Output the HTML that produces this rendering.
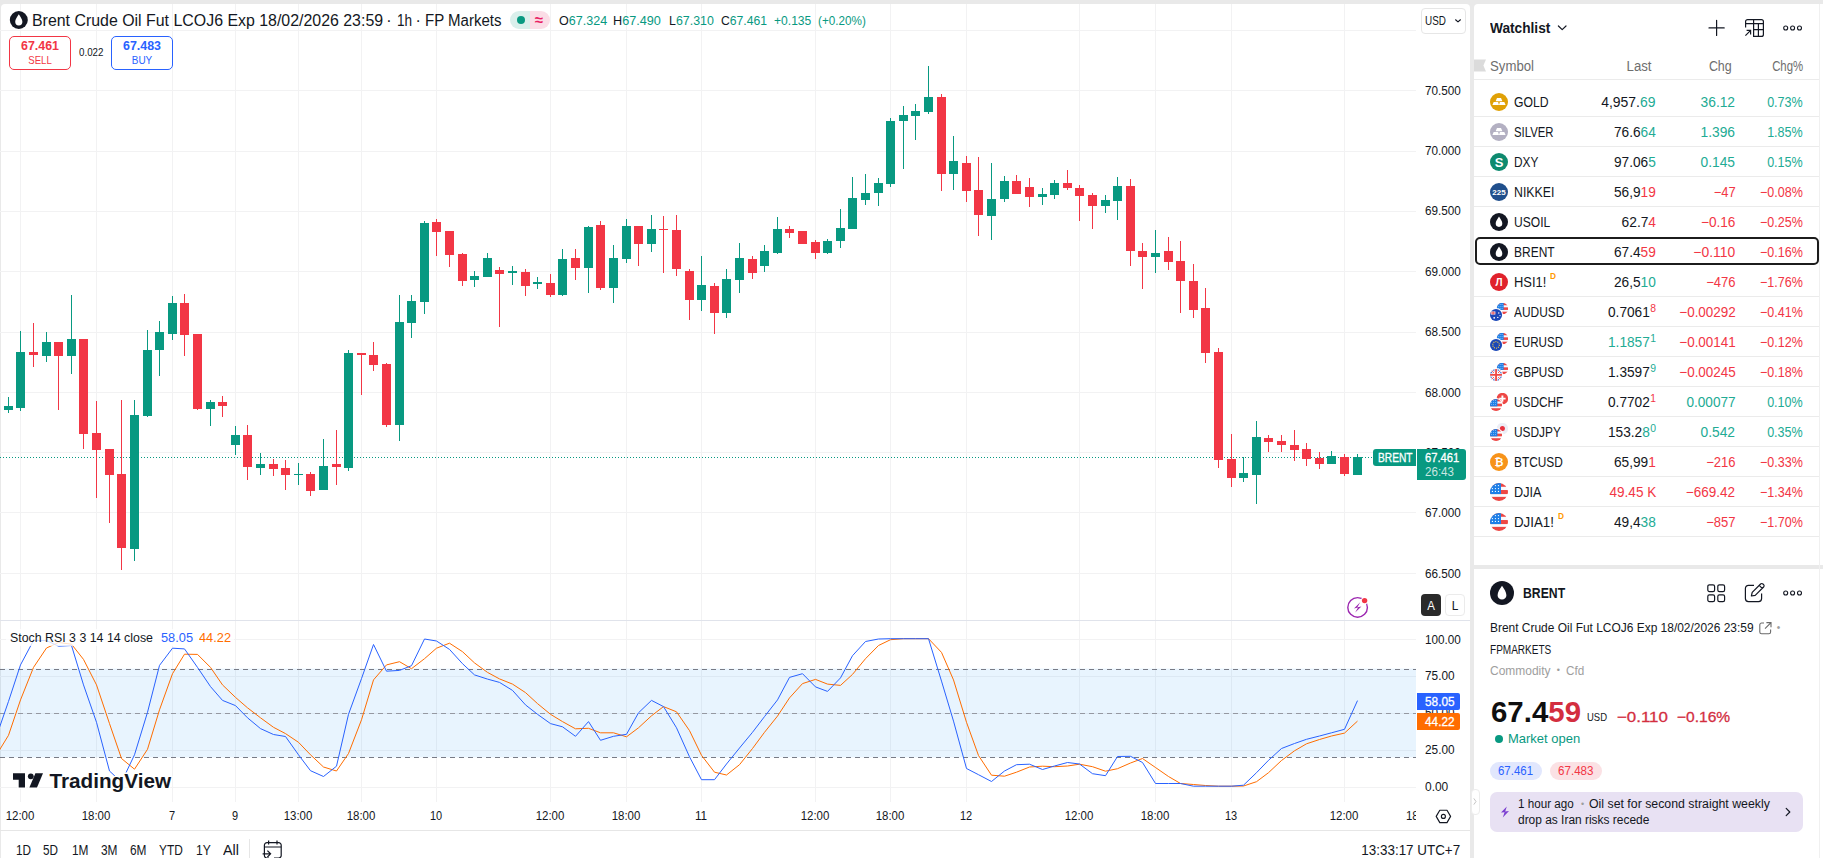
<!DOCTYPE html>
<html><head><meta charset="utf-8"><title>Brent chart</title>
<style>
*{box-sizing:border-box;margin:0;padding:0}
html,body{width:1823px;height:858px;overflow:hidden;background:#e9e9e9;font-family:"Liberation Sans",sans-serif;color:#131722}
.abs{position:absolute}
.t{position:absolute;white-space:nowrap;line-height:1}
#chart{position:absolute;left:1px;top:4px;width:1469px;height:854px;background:#fff;border-radius:4px 4px 0 0}
#wl{position:absolute;left:1474px;top:4px;width:349px;height:561px;background:#fff;border-radius:4px 0 0 0}
#det{position:absolute;left:1474px;top:569px;width:349px;height:289px;background:#fff}
.g{color:#089981}.r{color:#f23645}
.ax{position:absolute;left:1425px;font-size:12px;line-height:12px;color:#131722;white-space:nowrap}
.tm{position:absolute;top:810px;font-size:12px;line-height:12px;color:#131722;white-space:nowrap;transform:translateX(-50%)}
</style></head><body>
<div id="chart"></div>
<div id="wl"></div>
<div id="det"></div>
<svg class="abs" style="left:0;top:0" width="1470" height="858" viewBox="0 0 1470 858" shape-rendering="auto"><line x1="20.5" y1="4" x2="20.5" y2="802" stroke="#f2f2f3" stroke-width="1"/><line x1="96.5" y1="4" x2="96.5" y2="802" stroke="#f2f2f3" stroke-width="1"/><line x1="172.5" y1="4" x2="172.5" y2="802" stroke="#f2f2f3" stroke-width="1"/><line x1="235.5" y1="4" x2="235.5" y2="802" stroke="#f2f2f3" stroke-width="1"/><line x1="298.5" y1="4" x2="298.5" y2="802" stroke="#f2f2f3" stroke-width="1"/><line x1="361.5" y1="4" x2="361.5" y2="802" stroke="#f2f2f3" stroke-width="1"/><line x1="436.5" y1="4" x2="436.5" y2="802" stroke="#f2f2f3" stroke-width="1"/><line x1="550.5" y1="4" x2="550.5" y2="802" stroke="#f2f2f3" stroke-width="1"/><line x1="626.5" y1="4" x2="626.5" y2="802" stroke="#f2f2f3" stroke-width="1"/><line x1="701.5" y1="4" x2="701.5" y2="802" stroke="#f2f2f3" stroke-width="1"/><line x1="815.5" y1="4" x2="815.5" y2="802" stroke="#f2f2f3" stroke-width="1"/><line x1="890.5" y1="4" x2="890.5" y2="802" stroke="#f2f2f3" stroke-width="1"/><line x1="966.5" y1="4" x2="966.5" y2="802" stroke="#f2f2f3" stroke-width="1"/><line x1="1079.5" y1="4" x2="1079.5" y2="802" stroke="#f2f2f3" stroke-width="1"/><line x1="1155.5" y1="4" x2="1155.5" y2="802" stroke="#f2f2f3" stroke-width="1"/><line x1="1231.5" y1="4" x2="1231.5" y2="802" stroke="#f2f2f3" stroke-width="1"/><line x1="1344.5" y1="4" x2="1344.5" y2="802" stroke="#f2f2f3" stroke-width="1"/><line x1="0" y1="573.5" x2="1416" y2="573.5" stroke="#f2f2f3" stroke-width="1"/><line x1="0" y1="512.5" x2="1416" y2="512.5" stroke="#f2f2f3" stroke-width="1"/><line x1="0" y1="452.5" x2="1416" y2="452.5" stroke="#f2f2f3" stroke-width="1"/><line x1="0" y1="392.5" x2="1416" y2="392.5" stroke="#f2f2f3" stroke-width="1"/><line x1="0" y1="332.5" x2="1416" y2="332.5" stroke="#f2f2f3" stroke-width="1"/><line x1="0" y1="271.5" x2="1416" y2="271.5" stroke="#f2f2f3" stroke-width="1"/><line x1="0" y1="211.5" x2="1416" y2="211.5" stroke="#f2f2f3" stroke-width="1"/><line x1="0" y1="151.5" x2="1416" y2="151.5" stroke="#f2f2f3" stroke-width="1"/><line x1="0" y1="90.5" x2="1416" y2="90.5" stroke="#f2f2f3" stroke-width="1"/><line x1="0" y1="30.5" x2="1416" y2="30.5" stroke="#f2f2f3" stroke-width="1"/><line x1="0" y1="787.5" x2="1416" y2="787.5" stroke="#f2f2f3" stroke-width="1"/><line x1="0" y1="750.5" x2="1416" y2="750.5" stroke="#f2f2f3" stroke-width="1"/><line x1="0" y1="713.5" x2="1416" y2="713.5" stroke="#f2f2f3" stroke-width="1"/><line x1="0" y1="676.5" x2="1416" y2="676.5" stroke="#f2f2f3" stroke-width="1"/><line x1="0" y1="639.5" x2="1416" y2="639.5" stroke="#f2f2f3" stroke-width="1"/><rect x="0" y="668.6" width="1416" height="88.8" fill="#2196f3" fill-opacity="0.1"/><line x1="0" y1="669.5" x2="1416" y2="669.5" stroke="#787b86" stroke-width="1" stroke-dasharray="5 4"/><line x1="0" y1="713.5" x2="1416" y2="713.5" stroke="#9598a1" stroke-width="1" stroke-dasharray="5 4"/><line x1="0" y1="757.5" x2="1416" y2="757.5" stroke="#787b86" stroke-width="1" stroke-dasharray="5 4"/><line x1="0" y1="620.5" x2="1470" y2="620.5" stroke="#e0e3eb" stroke-width="1"/><line x1="0" y1="457.5" x2="1416" y2="457.5" stroke="#089981" stroke-width="1" stroke-dasharray="1 2"/><rect x="8" y="397" width="1" height="16" fill="#089981"/><rect x="4" y="406" width="9" height="4" fill="#089981"/><rect x="20" y="331" width="1" height="80" fill="#089981"/><rect x="16" y="352" width="9" height="56" fill="#089981"/><rect x="33" y="323" width="1" height="44" fill="#f23645"/><rect x="29" y="352" width="9" height="3" fill="#f23645"/><rect x="46" y="332" width="1" height="30" fill="#089981"/><rect x="42" y="342" width="9" height="14" fill="#089981"/><rect x="58" y="342" width="1" height="68" fill="#f23645"/><rect x="54" y="342" width="9" height="14" fill="#f23645"/><rect x="71" y="295" width="1" height="79" fill="#089981"/><rect x="67" y="339" width="9" height="17" fill="#089981"/><rect x="83" y="339" width="1" height="110" fill="#f23645"/><rect x="79" y="339" width="9" height="95" fill="#f23645"/><rect x="96" y="401" width="1" height="97" fill="#f23645"/><rect x="92" y="433" width="9" height="17" fill="#f23645"/><rect x="109" y="449" width="1" height="74" fill="#f23645"/><rect x="105" y="449" width="9" height="26" fill="#f23645"/><rect x="121" y="400" width="1" height="170" fill="#f23645"/><rect x="117" y="474" width="9" height="74" fill="#f23645"/><rect x="134" y="400" width="1" height="161" fill="#089981"/><rect x="130" y="415" width="9" height="134" fill="#089981"/><rect x="147" y="330" width="1" height="87" fill="#089981"/><rect x="143" y="350" width="9" height="66" fill="#089981"/><rect x="159" y="321" width="1" height="55" fill="#089981"/><rect x="155" y="332" width="9" height="18" fill="#089981"/><rect x="172" y="296" width="1" height="44" fill="#089981"/><rect x="168" y="303" width="9" height="31" fill="#089981"/><rect x="184" y="294" width="1" height="62" fill="#f23645"/><rect x="180" y="303" width="9" height="32" fill="#f23645"/><rect x="197" y="334" width="1" height="76" fill="#f23645"/><rect x="193" y="334" width="9" height="75" fill="#f23645"/><rect x="210" y="400" width="1" height="26" fill="#089981"/><rect x="206" y="402" width="9" height="7" fill="#089981"/><rect x="222" y="396" width="1" height="21" fill="#f23645"/><rect x="218" y="402" width="9" height="4" fill="#f23645"/><rect x="235" y="426" width="1" height="29" fill="#089981"/><rect x="231" y="435" width="9" height="10" fill="#089981"/><rect x="247" y="425" width="1" height="55" fill="#f23645"/><rect x="243" y="435" width="9" height="32" fill="#f23645"/><rect x="260" y="453" width="1" height="22" fill="#089981"/><rect x="256" y="464" width="9" height="4" fill="#089981"/><rect x="273" y="459" width="1" height="17" fill="#f23645"/><rect x="269" y="464" width="9" height="5" fill="#f23645"/><rect x="285" y="460" width="1" height="30" fill="#f23645"/><rect x="281" y="468" width="9" height="7" fill="#f23645"/><rect x="298" y="463" width="1" height="22" fill="#089981"/><rect x="294" y="474" width="9" height="1" fill="#089981"/><rect x="310" y="472" width="1" height="24" fill="#f23645"/><rect x="306" y="474" width="9" height="17" fill="#f23645"/><rect x="323" y="439" width="1" height="51" fill="#089981"/><rect x="319" y="466" width="9" height="24" fill="#089981"/><rect x="336" y="430" width="1" height="55" fill="#f23645"/><rect x="332" y="464" width="9" height="3" fill="#f23645"/><rect x="348" y="350" width="1" height="121" fill="#089981"/><rect x="344" y="353" width="9" height="115" fill="#089981"/><rect x="361" y="353" width="1" height="42" fill="#f23645"/><rect x="357" y="353" width="9" height="2" fill="#f23645"/><rect x="373" y="342" width="1" height="29" fill="#f23645"/><rect x="369" y="355" width="9" height="10" fill="#f23645"/><rect x="386" y="363" width="1" height="64" fill="#f23645"/><rect x="382" y="364" width="9" height="61" fill="#f23645"/><rect x="399" y="295" width="1" height="146" fill="#089981"/><rect x="395" y="322" width="9" height="103" fill="#089981"/><rect x="411" y="295" width="1" height="43" fill="#089981"/><rect x="407" y="301" width="9" height="22" fill="#089981"/><rect x="424" y="221" width="1" height="93" fill="#089981"/><rect x="420" y="223" width="9" height="79" fill="#089981"/><rect x="436" y="219" width="1" height="37" fill="#f23645"/><rect x="432" y="222" width="9" height="10" fill="#f23645"/><rect x="449" y="231" width="1" height="36" fill="#f23645"/><rect x="445" y="231" width="9" height="24" fill="#f23645"/><rect x="462" y="253" width="1" height="33" fill="#f23645"/><rect x="458" y="254" width="9" height="27" fill="#f23645"/><rect x="474" y="271" width="1" height="16" fill="#089981"/><rect x="470" y="276" width="9" height="4" fill="#089981"/><rect x="487" y="253" width="1" height="24" fill="#089981"/><rect x="483" y="258" width="9" height="19" fill="#089981"/><rect x="499" y="267" width="1" height="60" fill="#f23645"/><rect x="495" y="270" width="9" height="4" fill="#f23645"/><rect x="512" y="266" width="1" height="19" fill="#089981"/><rect x="508" y="271" width="9" height="2" fill="#089981"/><rect x="525" y="269" width="1" height="27" fill="#f23645"/><rect x="521" y="272" width="9" height="14" fill="#f23645"/><rect x="537" y="277" width="1" height="12" fill="#089981"/><rect x="533" y="282" width="9" height="2" fill="#089981"/><rect x="550" y="274" width="1" height="23" fill="#f23645"/><rect x="546" y="283" width="9" height="12" fill="#f23645"/><rect x="562" y="249" width="1" height="47" fill="#089981"/><rect x="558" y="259" width="9" height="36" fill="#089981"/><rect x="575" y="249" width="1" height="31" fill="#f23645"/><rect x="571" y="258" width="9" height="10" fill="#f23645"/><rect x="588" y="226" width="1" height="67" fill="#089981"/><rect x="584" y="227" width="9" height="41" fill="#089981"/><rect x="600" y="221" width="1" height="69" fill="#f23645"/><rect x="596" y="225" width="9" height="63" fill="#f23645"/><rect x="613" y="245" width="1" height="58" fill="#089981"/><rect x="609" y="258" width="9" height="30" fill="#089981"/><rect x="626" y="219" width="1" height="44" fill="#089981"/><rect x="622" y="226" width="9" height="33" fill="#089981"/><rect x="638" y="226" width="1" height="40" fill="#f23645"/><rect x="634" y="226" width="9" height="18" fill="#f23645"/><rect x="651" y="215" width="1" height="37" fill="#089981"/><rect x="647" y="229" width="9" height="15" fill="#089981"/><rect x="663" y="216" width="1" height="57" fill="#f23645"/><rect x="659" y="229" width="9" height="1" fill="#f23645"/><rect x="676" y="215" width="1" height="61" fill="#f23645"/><rect x="672" y="230" width="9" height="39" fill="#f23645"/><rect x="689" y="269" width="1" height="51" fill="#f23645"/><rect x="685" y="271" width="9" height="29" fill="#f23645"/><rect x="701" y="256" width="1" height="55" fill="#089981"/><rect x="697" y="285" width="9" height="15" fill="#089981"/><rect x="714" y="283" width="1" height="51" fill="#f23645"/><rect x="710" y="286" width="9" height="27" fill="#f23645"/><rect x="726" y="269" width="1" height="49" fill="#089981"/><rect x="722" y="279" width="9" height="34" fill="#089981"/><rect x="739" y="243" width="1" height="50" fill="#089981"/><rect x="735" y="258" width="9" height="22" fill="#089981"/><rect x="752" y="256" width="1" height="23" fill="#f23645"/><rect x="748" y="259" width="9" height="14" fill="#f23645"/><rect x="764" y="245" width="1" height="27" fill="#089981"/><rect x="760" y="251" width="9" height="15" fill="#089981"/><rect x="777" y="217" width="1" height="37" fill="#089981"/><rect x="773" y="229" width="9" height="24" fill="#089981"/><rect x="789" y="226" width="1" height="12" fill="#f23645"/><rect x="785" y="229" width="9" height="4" fill="#f23645"/><rect x="802" y="231" width="1" height="13" fill="#f23645"/><rect x="798" y="231" width="9" height="13" fill="#f23645"/><rect x="815" y="240" width="1" height="19" fill="#f23645"/><rect x="811" y="242" width="9" height="11" fill="#f23645"/><rect x="827" y="239" width="1" height="15" fill="#089981"/><rect x="823" y="241" width="9" height="12" fill="#089981"/><rect x="840" y="209" width="1" height="39" fill="#089981"/><rect x="836" y="228" width="9" height="13" fill="#089981"/><rect x="852" y="177" width="1" height="52" fill="#089981"/><rect x="848" y="198" width="9" height="31" fill="#089981"/><rect x="865" y="174" width="1" height="31" fill="#089981"/><rect x="861" y="193" width="9" height="7" fill="#089981"/><rect x="878" y="178" width="1" height="28" fill="#089981"/><rect x="874" y="183" width="9" height="10" fill="#089981"/><rect x="890" y="118" width="1" height="69" fill="#089981"/><rect x="886" y="121" width="9" height="63" fill="#089981"/><rect x="903" y="106" width="1" height="63" fill="#089981"/><rect x="899" y="115" width="9" height="6" fill="#089981"/><rect x="915" y="104" width="1" height="36" fill="#089981"/><rect x="911" y="111" width="9" height="5" fill="#089981"/><rect x="928" y="66" width="1" height="48" fill="#089981"/><rect x="924" y="97" width="9" height="15" fill="#089981"/><rect x="941" y="94" width="1" height="97" fill="#f23645"/><rect x="937" y="97" width="9" height="77" fill="#f23645"/><rect x="953" y="136" width="1" height="54" fill="#089981"/><rect x="949" y="161" width="9" height="13" fill="#089981"/><rect x="966" y="156" width="1" height="46" fill="#f23645"/><rect x="962" y="163" width="9" height="28" fill="#f23645"/><rect x="978" y="157" width="1" height="79" fill="#f23645"/><rect x="974" y="190" width="9" height="25" fill="#f23645"/><rect x="991" y="163" width="1" height="77" fill="#089981"/><rect x="987" y="199" width="9" height="17" fill="#089981"/><rect x="1004" y="176" width="1" height="26" fill="#089981"/><rect x="1000" y="181" width="9" height="18" fill="#089981"/><rect x="1016" y="175" width="1" height="19" fill="#f23645"/><rect x="1012" y="181" width="9" height="13" fill="#f23645"/><rect x="1029" y="178" width="1" height="29" fill="#f23645"/><rect x="1025" y="187" width="9" height="10" fill="#f23645"/><rect x="1042" y="188" width="1" height="17" fill="#089981"/><rect x="1038" y="194" width="9" height="3" fill="#089981"/><rect x="1054" y="180" width="1" height="19" fill="#089981"/><rect x="1050" y="183" width="9" height="12" fill="#089981"/><rect x="1067" y="170" width="1" height="20" fill="#f23645"/><rect x="1063" y="183" width="9" height="5" fill="#f23645"/><rect x="1079" y="185" width="1" height="36" fill="#f23645"/><rect x="1075" y="188" width="9" height="8" fill="#f23645"/><rect x="1092" y="193" width="1" height="36" fill="#f23645"/><rect x="1088" y="195" width="9" height="11" fill="#f23645"/><rect x="1105" y="195" width="1" height="18" fill="#089981"/><rect x="1101" y="200" width="9" height="6" fill="#089981"/><rect x="1117" y="177" width="1" height="43" fill="#089981"/><rect x="1113" y="186" width="9" height="15" fill="#089981"/><rect x="1130" y="179" width="1" height="87" fill="#f23645"/><rect x="1126" y="186" width="9" height="65" fill="#f23645"/><rect x="1142" y="243" width="1" height="46" fill="#f23645"/><rect x="1138" y="251" width="9" height="6" fill="#f23645"/><rect x="1155" y="230" width="1" height="43" fill="#089981"/><rect x="1151" y="253" width="9" height="4" fill="#089981"/><rect x="1168" y="237" width="1" height="33" fill="#f23645"/><rect x="1164" y="251" width="9" height="11" fill="#f23645"/><rect x="1180" y="241" width="1" height="72" fill="#f23645"/><rect x="1176" y="261" width="9" height="20" fill="#f23645"/><rect x="1193" y="264" width="1" height="54" fill="#f23645"/><rect x="1189" y="281" width="9" height="29" fill="#f23645"/><rect x="1205" y="288" width="1" height="75" fill="#f23645"/><rect x="1201" y="308" width="9" height="45" fill="#f23645"/><rect x="1218" y="348" width="1" height="120" fill="#f23645"/><rect x="1214" y="352" width="9" height="108" fill="#f23645"/><rect x="1231" y="434" width="1" height="53" fill="#f23645"/><rect x="1227" y="459" width="9" height="19" fill="#f23645"/><rect x="1243" y="457" width="1" height="25" fill="#089981"/><rect x="1239" y="473" width="9" height="5" fill="#089981"/><rect x="1256" y="421" width="1" height="83" fill="#089981"/><rect x="1252" y="437" width="9" height="38" fill="#089981"/><rect x="1268" y="435" width="1" height="17" fill="#f23645"/><rect x="1264" y="438" width="9" height="4" fill="#f23645"/><rect x="1281" y="435" width="1" height="17" fill="#f23645"/><rect x="1277" y="441" width="9" height="4" fill="#f23645"/><rect x="1294" y="430" width="1" height="31" fill="#f23645"/><rect x="1290" y="445" width="9" height="5" fill="#f23645"/><rect x="1306" y="443" width="1" height="23" fill="#f23645"/><rect x="1302" y="449" width="9" height="10" fill="#f23645"/><rect x="1319" y="452" width="1" height="17" fill="#f23645"/><rect x="1315" y="458" width="9" height="6" fill="#f23645"/><rect x="1331" y="451" width="1" height="13" fill="#089981"/><rect x="1327" y="456" width="9" height="8" fill="#089981"/><rect x="1344" y="454" width="1" height="22" fill="#f23645"/><rect x="1340" y="457" width="9" height="17" fill="#f23645"/><rect x="1357" y="454" width="1" height="21" fill="#089981"/><rect x="1353" y="457" width="9" height="18" fill="#089981"/><polyline points="-4.5,756.5 8.5,735.3 20.5,699.9 33.5,667.4 46.5,648.0 58.5,642.5 71.5,644.2 83.5,659.4 96.5,684.9 109.5,723.6 121.5,758.5 134.5,769.2 147.5,749.3 159.5,709.8 172.5,673.7 184.5,654.2 197.5,654.4 210.5,667.4 222.5,684.9 235.5,697.4 247.5,707.8 260.5,717.8 273.5,727.3 285.5,733.6 298.5,742.3 310.5,754.8 323.5,767.0 336.5,771.0 348.5,753.5 361.5,719.8 373.5,679.9 386.5,664.9 399.5,661.7 411.5,668.7 424.5,658.7 436.5,648.2 449.5,643.2 462.5,651.7 474.5,662.9 487.5,672.4 499.5,678.9 512.5,684.1 525.5,692.6 537.5,703.6 550.5,714.3 562.5,721.6 575.5,728.8 588.5,728.3 600.5,732.8 613.5,732.8 626.5,736.8 638.5,727.8 651.5,715.8 663.5,706.6 676.5,711.8 689.5,730.6 701.5,755.3 714.5,772.2 726.5,775.0 739.5,764.7 752.5,748.5 764.5,732.3 777.5,716.1 789.5,697.9 802.5,683.6 815.5,679.4 827.5,684.1 840.5,685.4 852.5,674.4 865.5,658.7 878.5,645.5 890.5,639.7 903.5,638.7 915.5,638.7 928.5,638.7 941.5,652.4 953.5,679.9 966.5,722.3 978.5,755.5 991.5,775.2 1004.5,776.2 1016.5,772.2 1029.5,767.0 1042.5,766.2 1054.5,766.7 1067.5,766.0 1079.5,764.2 1092.5,766.7 1105.5,771.2 1117.5,768.7 1130.5,763.0 1142.5,758.5 1155.5,767.5 1168.5,776.5 1180.5,783.5 1193.5,784.5 1205.5,785.5 1218.5,786.2 1231.5,786.2 1243.5,786.0 1256.5,781.7 1268.5,772.7 1281.5,760.5 1294.5,750.8 1306.5,743.8 1319.5,739.5 1331.5,736.0 1344.5,733.1 1357.5,721.1" fill="none" stroke="#ff6d00" stroke-width="1" stroke-linejoin="round"/><polyline points="-4.5,739.0 8.5,701.4 20.5,664.9 33.5,640.5 46.5,640.5 58.5,646.2 71.5,645.5 83.5,684.9 96.5,722.3 109.5,771.0 121.5,782.2 134.5,754.8 147.5,712.3 159.5,665.4 172.5,648.2 184.5,648.9 197.5,667.4 210.5,686.6 222.5,700.4 235.5,705.6 247.5,717.8 260.5,728.6 273.5,734.5 285.5,736.5 298.5,754.8 310.5,770.7 323.5,776.5 336.5,766.2 348.5,714.3 361.5,678.6 373.5,644.5 386.5,671.2 399.5,670.4 411.5,665.7 424.5,639.0 436.5,641.0 449.5,649.4 462.5,663.7 474.5,674.9 487.5,679.1 499.5,682.4 512.5,690.4 525.5,704.9 537.5,714.3 550.5,723.6 562.5,726.8 575.5,736.3 588.5,721.6 600.5,740.3 613.5,736.3 626.5,734.3 638.5,712.8 651.5,700.4 663.5,706.6 676.5,727.8 689.5,756.8 701.5,779.7 714.5,779.7 726.5,764.0 739.5,748.0 752.5,732.3 764.5,716.6 777.5,699.9 789.5,677.4 802.5,673.7 815.5,686.9 827.5,691.4 840.5,677.9 852.5,655.7 865.5,641.5 878.5,639.0 890.5,638.7 903.5,638.7 915.5,638.7 928.5,638.7 941.5,681.1 953.5,721.1 966.5,768.5 978.5,774.7 991.5,781.5 1004.5,771.0 1016.5,764.7 1029.5,764.2 1042.5,769.5 1054.5,766.0 1067.5,762.5 1079.5,764.0 1092.5,773.7 1105.5,775.7 1117.5,756.5 1130.5,756.3 1142.5,762.5 1155.5,783.5 1168.5,783.5 1180.5,783.5 1193.5,786.2 1205.5,786.2 1218.5,786.2 1231.5,786.2 1243.5,785.2 1256.5,772.7 1268.5,760.3 1281.5,748.5 1294.5,743.5 1306.5,739.3 1319.5,736.0 1331.5,732.8 1344.5,729.3 1357.5,700.6" fill="none" stroke="#2962ff" stroke-width="1" stroke-linejoin="round"/></svg>
<div class="t" style="top:566.00px;font-size:12px;line-height:16px;color:#131722;left:1425.00px;transform-origin:0 50%;transform:scaleX(0.9766);">66.500</div>
<div class="t" style="top:505.00px;font-size:12px;line-height:16px;color:#131722;left:1425.00px;transform-origin:0 50%;transform:scaleX(0.9766);">67.000</div>
<div class="t" style="top:445.00px;font-size:12px;line-height:16px;color:#131722;left:1425.00px;transform-origin:0 50%;transform:scaleX(0.9766);">67.500</div>
<div class="t" style="top:385.00px;font-size:12px;line-height:16px;color:#131722;left:1425.00px;transform-origin:0 50%;transform:scaleX(0.9766);">68.000</div>
<div class="t" style="top:324.00px;font-size:12px;line-height:16px;color:#131722;left:1425.00px;transform-origin:0 50%;transform:scaleX(0.9766);">68.500</div>
<div class="t" style="top:264.00px;font-size:12px;line-height:16px;color:#131722;left:1425.00px;transform-origin:0 50%;transform:scaleX(0.9766);">69.000</div>
<div class="t" style="top:203.00px;font-size:12px;line-height:16px;color:#131722;left:1425.00px;transform-origin:0 50%;transform:scaleX(0.9766);">69.500</div>
<div class="t" style="top:143.00px;font-size:12px;line-height:16px;color:#131722;left:1425.00px;transform-origin:0 50%;transform:scaleX(0.9766);">70.000</div>
<div class="t" style="top:83.00px;font-size:12px;line-height:16px;color:#131722;left:1425.00px;transform-origin:0 50%;transform:scaleX(0.9766);">70.500</div>
<div class="t" style="top:779.00px;font-size:12px;line-height:16px;color:#131722;left:1425.00px;transform-origin:0 50%;transform:scaleX(0.9963);">0.00</div>
<div class="t" style="top:742.00px;font-size:12px;line-height:16px;color:#131722;left:1425.00px;transform-origin:0 50%;transform:scaleX(0.9842);">25.00</div>
<div class="t" style="top:705.00px;font-size:12px;line-height:16px;color:#131722;left:1425.00px;transform-origin:0 50%;transform:scaleX(0.9842);">50.00</div>
<div class="t" style="top:668.00px;font-size:12px;line-height:16px;color:#131722;left:1425.00px;transform-origin:0 50%;transform:scaleX(0.9842);">75.00</div>
<div class="t" style="top:632.00px;font-size:12px;line-height:16px;color:#131722;left:1425.00px;transform-origin:0 50%;transform:scaleX(0.9766);">100.00</div>
<div class="abs" style="left:1373px;top:449px;width:43px;height:17px;background:#089981;border-radius:3px 0 0 3px"></div>
<div class="t" style="top:449.70px;font-size:12px;line-height:16px;color:#fff;left:1377.50px;transform-origin:0 50%;transform:scaleX(0.8483);-webkit-text-stroke:0.3px #fff;">BRENT</div>
<div class="abs" style="left:1417px;top:449px;width:49px;height:31px;background:#089981;border-radius:0 3px 3px 0"></div>
<div class="t" style="top:449.70px;font-size:12px;line-height:16px;color:#fff;left:1425.00px;transform-origin:0 50%;transform:scaleX(0.9345);-webkit-text-stroke:0.3px #fff;">67.461</div>
<div class="t" style="top:463.60px;font-size:12px;line-height:16px;color:rgba(255,255,255,.78);left:1425.00px;transform-origin:0 50%;transform:scaleX(0.9657);">26:43</div>
<div class="abs" style="left:1417px;top:693px;width:43px;height:17px;background:#2962ff;border-radius:0 2px 2px 0"></div>
<div class="t" style="top:694.00px;font-size:12px;line-height:16px;color:#fff;left:1425.00px;transform-origin:0 50%;transform:scaleX(0.9842);-webkit-text-stroke:0.3px #fff;">58.05</div>
<div class="abs" style="left:1417px;top:713px;width:43px;height:17px;background:#ff6d00;border-radius:0 2px 2px 0"></div>
<div class="t" style="top:714.00px;font-size:12px;line-height:16px;color:#fff;left:1425.00px;transform-origin:0 50%;transform:scaleX(0.9842);-webkit-text-stroke:0.3px #fff;">44.22</div>
<div class="abs" style="left:1420.5px;top:8px;width:45px;height:25.5px;border:1px solid #e6e6e6;border-radius:4px;background:#fff"></div>
<div class="t" style="top:12.50px;font-size:12px;line-height:16px;color:#131722;left:1424.50px;transform-origin:0 50%;transform:scaleX(0.8251);">USD</div>
<svg class="abs" style="left:1453px;top:17px" width="10" height="8" viewBox="0 0 10 8"><path d="M2.6 2.8 L5 4.9 L7.4 2.8" fill="none" stroke="#131722" stroke-width="1.15" stroke-linecap="round" stroke-linejoin="round"/></svg>
<div class="abs" style="left:1421px;top:594px;width:20px;height:22px;background:#2a2a2a;border-radius:4px"></div>
<div class="t" style="top:597.00px;font-size:13px;line-height:17px;color:#fff;left:1431.00px;transform-origin:50% 50%;transform:translateX(-50%) scaleX(0.8846);">A</div>
<div class="abs" style="left:1445px;top:594px;width:19.5px;height:22px;background:#fff;border:1px solid #ebebeb;border-radius:4px"></div>
<div class="t" style="top:597.00px;font-size:13px;line-height:17px;color:#131722;left:1455.00px;transform-origin:50% 50%;transform:translateX(-50%) scaleX(0.9098);">L</div>
<svg class="abs" style="left:1345px;top:595px" width="26" height="26" viewBox="0 0 26 26"><circle cx="12.6" cy="12.4" r="9.8" fill="none" stroke="#9c27b0" stroke-width="1.4"/><path d="M15.2 7.2 L9 13.4 L13 12.6 L10.2 17.6 L16.4 11.4 L12.4 12.2 Z" fill="#9c27b0"/><circle cx="19.6" cy="5.6" r="3.6" fill="#fff"/><circle cx="19.6" cy="5.6" r="2.7" fill="#f23645"/></svg>
<div class="t" style="top:807.50px;font-size:12px;line-height:16px;color:#131722;left:19.50px;transform-origin:50% 50%;transform:translateX(-50%) scaleX(0.9547);">12:00</div>
<div class="t" style="top:807.50px;font-size:12px;line-height:16px;color:#131722;left:95.50px;transform-origin:50% 50%;transform:translateX(-50%) scaleX(0.9547);">18:00</div>
<div class="t" style="top:807.50px;font-size:12px;line-height:16px;color:#131722;left:171.50px;transform-origin:50% 50%;transform:translateX(-50%) scaleX(0.9139);">7</div>
<div class="t" style="top:807.50px;font-size:12px;line-height:16px;color:#131722;left:234.50px;transform-origin:50% 50%;transform:translateX(-50%) scaleX(0.9139);">9</div>
<div class="t" style="top:807.50px;font-size:12px;line-height:16px;color:#131722;left:297.50px;transform-origin:50% 50%;transform:translateX(-50%) scaleX(0.9547);">13:00</div>
<div class="t" style="top:807.50px;font-size:12px;line-height:16px;color:#131722;left:360.50px;transform-origin:50% 50%;transform:translateX(-50%) scaleX(0.9547);">18:00</div>
<div class="t" style="top:807.50px;font-size:12px;line-height:16px;color:#131722;left:435.50px;transform-origin:50% 50%;transform:translateX(-50%) scaleX(0.9139);">10</div>
<div class="t" style="top:807.50px;font-size:12px;line-height:16px;color:#131722;left:549.50px;transform-origin:50% 50%;transform:translateX(-50%) scaleX(0.9547);">12:00</div>
<div class="t" style="top:807.50px;font-size:12px;line-height:16px;color:#131722;left:625.50px;transform-origin:50% 50%;transform:translateX(-50%) scaleX(0.9547);">18:00</div>
<div class="t" style="top:807.50px;font-size:12px;line-height:16px;color:#131722;left:700.50px;transform-origin:50% 50%;transform:translateX(-50%) scaleX(0.9793);">11</div>
<div class="t" style="top:807.50px;font-size:12px;line-height:16px;color:#131722;left:814.50px;transform-origin:50% 50%;transform:translateX(-50%) scaleX(0.9547);">12:00</div>
<div class="t" style="top:807.50px;font-size:12px;line-height:16px;color:#131722;left:889.50px;transform-origin:50% 50%;transform:translateX(-50%) scaleX(0.9547);">18:00</div>
<div class="t" style="top:807.50px;font-size:12px;line-height:16px;color:#131722;left:965.50px;transform-origin:50% 50%;transform:translateX(-50%) scaleX(0.9139);">12</div>
<div class="t" style="top:807.50px;font-size:12px;line-height:16px;color:#131722;left:1078.50px;transform-origin:50% 50%;transform:translateX(-50%) scaleX(0.9547);">12:00</div>
<div class="t" style="top:807.50px;font-size:12px;line-height:16px;color:#131722;left:1154.50px;transform-origin:50% 50%;transform:translateX(-50%) scaleX(0.9547);">18:00</div>
<div class="t" style="top:807.50px;font-size:12px;line-height:16px;color:#131722;left:1230.50px;transform-origin:50% 50%;transform:translateX(-50%) scaleX(0.9139);">13</div>
<div class="t" style="top:807.50px;font-size:12px;line-height:16px;color:#131722;left:1343.50px;transform-origin:50% 50%;transform:translateX(-50%) scaleX(0.9547);">12:00</div>
<div class="abs" style="left:1395px;top:805px;width:21px;height:22px;overflow:hidden"><div class="t" style="left:11px;top:2.5px;font-size:12px;line-height:16px;transform-origin:0 50%;transform:scaleX(.95)">18:00</div></div>
<svg class="abs" style="left:1434px;top:807px" width="20" height="18" viewBox="0 0 20 18"><path d="M5.8 3.2 H13 L16.6 9.4 L13 15.6 H5.8 L2.2 9.4 Z" fill="none" stroke="#131722" stroke-width="1.15" stroke-linejoin="round"/><circle cx="9.4" cy="9.4" r="2" fill="none" stroke="#131722" stroke-width="1.15"/></svg>
<div class="abs" style="left:0;top:830px;width:1470px;height:1px;background:#e6e6e6"></div>
<div class="t" style="top:841.00px;font-size:14px;line-height:18px;color:#131722;left:15.50px;transform-origin:0 50%;transform:scaleX(0.8381);">1D</div>
<div class="t" style="top:841.00px;font-size:14px;line-height:18px;color:#131722;left:43.30px;transform-origin:0 50%;transform:scaleX(0.8381);">5D</div>
<div class="t" style="top:841.00px;font-size:14px;line-height:18px;color:#131722;left:71.70px;transform-origin:0 50%;transform:scaleX(0.8484);">1M</div>
<div class="t" style="top:841.00px;font-size:14px;line-height:18px;color:#131722;left:100.50px;transform-origin:0 50%;transform:scaleX(0.8484);">3M</div>
<div class="t" style="top:841.00px;font-size:14px;line-height:18px;color:#131722;left:129.70px;transform-origin:0 50%;transform:scaleX(0.8484);">6M</div>
<div class="t" style="top:841.00px;font-size:14px;line-height:18px;color:#131722;left:159.20px;transform-origin:0 50%;transform:scaleX(0.8500);">YTD</div>
<div class="t" style="top:841.00px;font-size:14px;line-height:18px;color:#131722;left:195.80px;transform-origin:0 50%;transform:scaleX(0.8643);">1Y</div>
<div class="t" style="top:841.00px;font-size:14px;line-height:18px;color:#131722;left:223.00px;transform-origin:0 50%;transform:scaleX(1.0284);">All</div>
<div class="abs" style="left:249px;top:839px;width:1px;height:19px;background:#e6e6e6"></div>
<svg class="abs" style="left:262px;top:839px" width="22" height="19" viewBox="0 0 22 19"><path d="M7 19 H5 A2.6 2.6 0 0 1 2.4 16.4 V6.2 A2.6 2.6 0 0 1 5 3.6 H16.6 A2.6 2.6 0 0 1 19.2 6.2 V16.4 A2.6 2.6 0 0 1 16.6 19 H12" fill="none" stroke="#131722" stroke-width="1.2"/><path d="M2.4 8 H19.2 M6.6 1.6 V5.6 M15 1.6 V5.6 M0.6 14.8 H8.6 M5.4 11.6 L8.6 14.8 L5.4 18" fill="none" stroke="#131722" stroke-width="1.2"/></svg>
<div class="t" style="top:841.00px;font-size:14px;line-height:18px;color:#131722;right:363.00px;transform-origin:100% 50%;transform:scaleX(0.9577);">13:33:17 UTC+7</div>
<svg class="abs" style="left:8px;top:768px" width="170" height="28" viewBox="0 0 170 28"><g stroke="#fff" stroke-width="3" stroke-linejoin="round" fill="#fff"><path d="M5 5.3 H17 V19.5 H10.7 V11.7 H5 Z"/><circle cx="22.8" cy="8.3" r="2.9"/><path d="M27.4 5.3 H35 L29 19.5 H21.4 Z"/></g><g fill="#131722"><path d="M5 5.3 H17 V19.5 H10.7 V11.7 H5 Z"/><circle cx="22.8" cy="8.3" r="2.9"/><path d="M27.4 5.3 H35 L29 19.5 H21.4 Z"/></g><text x="41.5" y="19.5" font-family="Liberation Sans, sans-serif" font-weight="bold" font-size="19.4" fill="#131722" stroke="#fff" stroke-width="3" paint-order="stroke" stroke-linejoin="round" textLength="121.5" lengthAdjust="spacingAndGlyphs">TradingView</text></svg>
<svg class="abs" style="left:9px;top:10px" width="20" height="20" viewBox="0 0 20 20"><circle cx="9.8" cy="10" r="9" fill="#131722"/><path d="M9.8 4.2 C11.6 7 13.4 9.4 13.4 11.8 A3.6 3.6 0 0 1 6.2 11.8 C6.2 9.4 8 7 9.8 4.2 Z" fill="#fff"/></svg>
<div class="t" style="top:10.50px;font-size:16px;line-height:20px;color:#131722;left:32.30px;transform-origin:0 50%;transform:scaleX(0.9943);">Brent Crude Oil Fut LCOJ6 Exp 18/02/2026 23:59</div>
<div class="t" style="top:10.50px;font-size:16px;line-height:20px;color:#131722;left:388.90px;transform-origin:50% 50%;transform:translateX(-50%) scaleX(1.0000);">·</div>
<div class="t" style="top:10.50px;font-size:16px;line-height:20px;color:#131722;left:397.10px;transform-origin:0 50%;transform:scaleX(0.8485);">1h</div>
<div class="t" style="top:10.50px;font-size:16px;line-height:20px;color:#131722;left:418.20px;transform-origin:50% 50%;transform:translateX(-50%) scaleX(1.0000);">·</div>
<div class="t" style="top:10.50px;font-size:16px;line-height:20px;color:#131722;left:425.40px;transform-origin:0 50%;transform:scaleX(0.9386);">FP Markets</div>
<div class="abs" style="left:510px;top:11px;width:20px;height:18px;background:#d9efeb;border-radius:9px 0 0 9px"></div>
<div class="abs" style="left:530px;top:11px;width:20px;height:18px;background:#fbdde6;border-radius:0 9px 9px 0"></div>
<div class="abs" style="left:516.7px;top:16px;width:8px;height:8px;background:#089981;border-radius:50%"></div>
<div class="t" style="top:10.00px;font-size:15px;line-height:19px;color:#e91e63;font-weight:bold;left:538.80px;transform-origin:50% 50%;transform:translateX(-50%) scaleX(1.0000);">≈</div>
<div class="t" style="top:12.00px;font-size:13px;line-height:17px;color:#131722;left:558.80px;transform-origin:0 50%;transform:scaleX(0.9644);">O<span class="g">67.324</span></div>
<div class="t" style="top:12.00px;font-size:13px;line-height:17px;color:#131722;left:613.40px;transform-origin:0 50%;transform:scaleX(0.9746);">H<span class="g">67.490</span></div>
<div class="t" style="top:12.00px;font-size:13px;line-height:17px;color:#131722;left:668.50px;transform-origin:0 50%;transform:scaleX(0.9534);">L<span class="g">67.310</span></div>
<div class="t" style="top:12.00px;font-size:13px;line-height:17px;color:#131722;left:720.50px;transform-origin:0 50%;transform:scaleX(0.9379);">C<span class="g">67.461</span></div>
<div class="t" style="top:12.00px;font-size:13px;line-height:17px;color:#131722;left:774.30px;transform-origin:0 50%;transform:scaleX(0.9296);"><span class="g">+0.135</span></div>
<div class="t" style="top:12.00px;font-size:13px;line-height:17px;color:#131722;left:817.50px;transform-origin:0 50%;transform:scaleX(0.9000);"><span class="g">(+0.20%)</span></div>
<div class="abs" style="left:9px;top:36px;width:62px;height:33.5px;border:1px solid #f23645;border-radius:5px;background:#fff"></div>
<div class="t" style="top:38.00px;font-size:12px;line-height:16px;color:#f23645;font-weight:bold;left:40.00px;transform-origin:50% 50%;transform:translateX(-50%) scaleX(1.0353);">67.461</div>
<div class="t" style="top:52.50px;font-size:11px;line-height:15px;color:#f23645;left:40.00px;transform-origin:50% 50%;transform:translateX(-50%) scaleX(0.8733);">SELL</div>
<div class="t" style="top:45.50px;font-size:10px;line-height:14px;color:#131722;left:78.50px;transform-origin:0 50%;transform:scaleX(0.9790);">0.022</div>
<div class="abs" style="left:111px;top:36px;width:62px;height:33.5px;border:1px solid #2962ff;border-radius:5px;background:#fff"></div>
<div class="t" style="top:38.00px;font-size:12px;line-height:16px;color:#2962ff;font-weight:bold;left:142.00px;transform-origin:50% 50%;transform:translateX(-50%) scaleX(1.0353);">67.483</div>
<div class="t" style="top:52.50px;font-size:11px;line-height:15px;color:#2962ff;left:142.00px;transform-origin:50% 50%;transform:translateX(-50%) scaleX(0.9064);">BUY</div>
<div class="abs" style="left:6px;top:629px;width:228px;height:17px;background:rgba(255,255,255,.78)"></div>
<div class="t" style="top:629.50px;font-size:12px;line-height:16px;color:#131722;left:10.00px;transform-origin:0 50%;transform:scaleX(1.0306);">Stoch RSI 3 3 14 14 close</div>
<div class="t" style="top:629.50px;font-size:12px;line-height:16px;color:#2962ff;left:160.50px;transform-origin:0 50%;transform:scaleX(1.0656);">58.05</div>
<div class="t" style="top:629.50px;font-size:12px;line-height:16px;color:#ff6d00;left:198.50px;transform-origin:0 50%;transform:scaleX(1.0656);">44.22</div>
<div class="abs" style="left:1819px;top:4px;width:1px;height:854px;background:#f0f0f0"></div>
<div class="t" style="top:19.00px;font-size:14px;line-height:18px;color:#131722;font-weight:bold;left:1490.30px;transform-origin:0 50%;transform:scaleX(0.9772);">Watchlist</div>
<svg class="abs" style="left:1556px;top:23px" width="12" height="10" viewBox="0 0 12 10"><path d="M2.4 3 L6.2 6.6 L10 3" fill="none" stroke="#131722" stroke-width="1.2" stroke-linecap="round" stroke-linejoin="round"/></svg>
<svg class="abs" style="left:1707px;top:18px" width="20" height="20" viewBox="0 0 20 20"><path d="M9.6 2.3 V17.5 M2 9.9 H17.2" fill="none" stroke="#131722" stroke-width="1.2" stroke-linecap="round"/></svg>
<svg class="abs" style="left:1743px;top:17px" width="23" height="22" viewBox="0 0 23 22"><path d="M2.6 10.4 V4.6 A2 2 0 0 1 4.6 2.6 H18.4 A2 2 0 0 1 20.4 4.6 V17.4 A2 2 0 0 1 18.4 19.4 H10.6 V2.6 M2.6 6.6 H20.4 M10.6 12.6 H20.4 M15.4 6.6 V19.4" fill="none" stroke="#131722" stroke-width="1.2"/><path d="M2.4 18.6 L7.4 13.6 M3.6 13.4 H7.6 V17.4" fill="none" stroke="#131722" stroke-width="1.2"/></svg>
<svg class="abs" style="left:1781px;top:23.3px" width="24" height="10" viewBox="0 0 24 10"><g fill="none" stroke="#131722" stroke-width="1.1"><circle cx="4.7" cy="5" r="2"/><circle cx="11.6" cy="5" r="2"/><circle cx="18.5" cy="5" r="2"/></g></svg>
<svg class="abs" style="left:1474px;top:59px" width="13" height="13" viewBox="0 0 13 13"><path d="M0 0.5 H12 L9.4 6.4 L12 12.4 H0 Z" fill="#dbdbdb"/></svg>
<div class="t" style="top:57.00px;font-size:14px;line-height:18px;color:#6e6e6e;left:1490.30px;transform-origin:0 50%;transform:scaleX(0.9425);">Symbol</div>
<div class="t" style="top:57.00px;font-size:14px;line-height:18px;color:#6e6e6e;right:171.30px;transform-origin:100% 50%;transform:scaleX(0.9410);">Last</div>
<div class="t" style="top:57.00px;font-size:14px;line-height:18px;color:#6e6e6e;right:91.10px;transform-origin:100% 50%;transform:scaleX(0.8878);">Chg</div>
<div class="t" style="top:57.00px;font-size:14px;line-height:18px;color:#6e6e6e;right:20.10px;transform-origin:100% 50%;transform:scaleX(0.8130);">Chg%</div>
<div class="abs" style="left:1474px;top:79px;width:345px;height:1px;background:#ebebeb"></div>
<svg class="abs" style="left:1490px;top:93px" width="18" height="18" viewBox="0 0 18 18"><circle cx="9" cy="9" r="9" fill="#e0a106"/><path d="M7 5.1 H11 L12.4 8.2 H5.6 Z M3.7 8.9 H8.1 L9 12 H2.4 Z M9.9 8.9 H14.3 L15.6 12 H9 Z" fill="#fff"/></svg>
<div class="t" style="top:93.30px;font-size:14px;line-height:18px;color:#131722;left:1514.20px;transform-origin:0 50%;transform:scaleX(0.8712);">GOLD</div>
<div class="t" style="top:93.30px;font-size:14px;line-height:18px;color:#131722;right:167.00px;transform-origin:100% 50%;transform:scaleX(0.9963);">4,957.<span style="color:#22ab94">69</span></div>
<div class="t" style="top:93.30px;font-size:14px;line-height:18px;color:#22ab94;right:87.60px;transform-origin:100% 50%;transform:scaleX(0.9842);">36.12</div>
<div class="t" style="top:93.30px;font-size:14px;line-height:18px;color:#22ab94;right:20.00px;transform-origin:100% 50%;transform:scaleX(0.8954);">0.73%</div>
<div class="abs" style="left:1474px;top:116px;width:345px;height:1px;background:#ebebeb"></div>
<svg class="abs" style="left:1490px;top:123px" width="18" height="18" viewBox="0 0 18 18"><circle cx="9" cy="9" r="9" fill="#b3b0c2"/><path d="M7 5.1 H11 L12.4 8.2 H5.6 Z M3.7 8.9 H8.1 L9 12 H2.4 Z M9.9 8.9 H14.3 L15.6 12 H9 Z" fill="#fff"/></svg>
<div class="t" style="top:123.30px;font-size:14px;line-height:18px;color:#131722;left:1514.20px;transform-origin:0 50%;transform:scaleX(0.8101);">SILVER</div>
<div class="t" style="top:123.30px;font-size:14px;line-height:18px;color:#131722;right:167.00px;transform-origin:100% 50%;transform:scaleX(0.9766);">76.6<span style="color:#22ab94">64</span></div>
<div class="t" style="top:123.30px;font-size:14px;line-height:18px;color:#22ab94;right:87.60px;transform-origin:100% 50%;transform:scaleX(0.9842);">1.396</div>
<div class="t" style="top:123.30px;font-size:14px;line-height:18px;color:#22ab94;right:20.00px;transform-origin:100% 50%;transform:scaleX(0.8954);">1.85%</div>
<div class="abs" style="left:1474px;top:146px;width:345px;height:1px;background:#ebebeb"></div>
<svg class="abs" style="left:1490px;top:153px" width="18" height="18" viewBox="0 0 18 18"><circle cx="9" cy="9" r="9" fill="#0e8a6f"/><text x="9" y="13.68" text-anchor="middle" font-family="Liberation Sans, sans-serif" font-weight="bold" font-size="13" fill="#fff">S</text></svg>
<div class="t" style="top:153.30px;font-size:14px;line-height:18px;color:#131722;left:1514.20px;transform-origin:0 50%;transform:scaleX(0.8462);">DXY</div>
<div class="t" style="top:153.30px;font-size:14px;line-height:18px;color:#131722;right:167.00px;transform-origin:100% 50%;transform:scaleX(0.9766);">97.06<span style="color:#22ab94">5</span></div>
<div class="t" style="top:153.30px;font-size:14px;line-height:18px;color:#22ab94;right:87.60px;transform-origin:100% 50%;transform:scaleX(0.9842);">0.145</div>
<div class="t" style="top:153.30px;font-size:14px;line-height:18px;color:#22ab94;right:20.00px;transform-origin:100% 50%;transform:scaleX(0.8954);">0.15%</div>
<div class="abs" style="left:1474px;top:176px;width:345px;height:1px;background:#ebebeb"></div>
<svg class="abs" style="left:1490px;top:183px" width="18" height="18" viewBox="0 0 18 18"><circle cx="9" cy="9" r="9" fill="#204f8c"/><text x="9" y="11.879999999999999" text-anchor="middle" font-family="Liberation Sans, sans-serif" font-weight="bold" font-size="8" fill="#fff">225</text></svg>
<div class="t" style="top:183.30px;font-size:14px;line-height:18px;color:#131722;left:1514.20px;transform-origin:0 50%;transform:scaleX(0.8790);">NIKKEI</div>
<div class="t" style="top:183.30px;font-size:14px;line-height:18px;color:#131722;right:167.00px;transform-origin:100% 50%;transform:scaleX(0.9766);">56,9<span style="color:#f23645">19</span></div>
<div class="t" style="top:183.30px;font-size:14px;line-height:18px;color:#f23645;right:87.60px;transform-origin:100% 50%;transform:scaleX(0.9267);">−47</div>
<div class="t" style="top:183.30px;font-size:14px;line-height:18px;color:#f23645;right:20.00px;transform-origin:100% 50%;transform:scaleX(0.8958);">−0.08%</div>
<div class="abs" style="left:1474px;top:206px;width:345px;height:1px;background:#ebebeb"></div>
<svg class="abs" style="left:1490px;top:213px" width="18" height="18" viewBox="0 0 18 18"><circle cx="9" cy="9" r="9" fill="#131722"/><path d="M9 3.6 C10.7 6.2 12.3 8.4 12.3 10.6 A3.3 3.3 0 0 1 5.7 10.6 C5.7 8.4 7.3 6.2 9 3.6 Z" fill="#fff"/></svg>
<div class="t" style="top:213.30px;font-size:14px;line-height:18px;color:#131722;left:1514.20px;transform-origin:0 50%;transform:scaleX(0.8621);">USOIL</div>
<div class="t" style="top:213.30px;font-size:14px;line-height:18px;color:#131722;right:167.00px;transform-origin:100% 50%;transform:scaleX(0.9842);">62.7<span style="color:#f23645">4</span></div>
<div class="t" style="top:213.30px;font-size:14px;line-height:18px;color:#f23645;right:87.60px;transform-origin:100% 50%;transform:scaleX(0.9734);">−0.16</div>
<div class="t" style="top:213.30px;font-size:14px;line-height:18px;color:#f23645;right:20.00px;transform-origin:100% 50%;transform:scaleX(0.8958);">−0.25%</div>
<svg class="abs" style="left:1490px;top:243px" width="18" height="18" viewBox="0 0 18 18"><circle cx="9" cy="9" r="9" fill="#131722"/><path d="M9 3.6 C10.7 6.2 12.3 8.4 12.3 10.6 A3.3 3.3 0 0 1 5.7 10.6 C5.7 8.4 7.3 6.2 9 3.6 Z" fill="#fff"/></svg>
<div class="t" style="top:243.30px;font-size:14px;line-height:18px;color:#131722;left:1514.20px;transform-origin:0 50%;transform:scaleX(0.8565);">BRENT</div>
<div class="t" style="top:243.30px;font-size:14px;line-height:18px;color:#131722;right:167.00px;transform-origin:100% 50%;transform:scaleX(0.9766);">67.4<span style="color:#f23645">59</span></div>
<div class="t" style="top:243.30px;font-size:14px;line-height:18px;color:#f23645;right:87.60px;transform-origin:100% 50%;transform:scaleX(0.9916);">−0.110</div>
<div class="t" style="top:243.30px;font-size:14px;line-height:18px;color:#f23645;right:20.00px;transform-origin:100% 50%;transform:scaleX(0.8958);">−0.16%</div>
<svg class="abs" style="left:1490px;top:273px" width="18" height="18" viewBox="0 0 18 18"><circle cx="9" cy="9" r="9" fill="#e0222c"/><text x="9" y="12.6" text-anchor="middle" font-family="Liberation Sans, sans-serif" font-weight="bold" font-size="10" fill="#fff">Л</text></svg>
<div class="t" style="top:273.30px;font-size:14px;line-height:18px;color:#131722;left:1514.20px;transform-origin:0 50%;transform:scaleX(0.9212);">HSI1!</div>
<div class="t" style="top:269.50px;font-size:9px;line-height:13px;color:#ff9800;font-weight:bold;left:1549.96px;transform-origin:0 50%;transform:scaleX(0.9231);">D</div>
<div class="t" style="top:273.30px;font-size:14px;line-height:18px;color:#131722;right:167.00px;transform-origin:100% 50%;transform:scaleX(0.9766);">26,5<span style="color:#22ab94">10</span></div>
<div class="t" style="top:273.30px;font-size:14px;line-height:18px;color:#f23645;right:87.60px;transform-origin:100% 50%;transform:scaleX(0.9305);">−476</div>
<div class="t" style="top:273.30px;font-size:14px;line-height:18px;color:#f23645;right:20.00px;transform-origin:100% 50%;transform:scaleX(0.8958);">−1.76%</div>
<div class="abs" style="left:1474px;top:296px;width:345px;height:1px;background:#ebebeb"></div>
<svg class="abs" style="left:1490px;top:303px" width="18" height="18" viewBox="0 0 18 18"><clipPath id="c1"><circle cx="12.4" cy="5.6" r="5.75"/></clipPath><g clip-path="url(#c1)"><rect x="6.65" y="-0.15000000000000036" width="11.5" height="11.5" fill="#f8fbff"/><rect x="6.65" y="-0.15" width="11.5" height="2.42" fill="#ee4744"/><rect x="6.65" y="4.33" width="11.5" height="2.59" fill="#ee4744"/><rect x="6.65" y="8.71" width="11.5" height="2.64" fill="#ee4744"/><rect x="6.65" y="-0.15000000000000036" width="7.01" height="7.07" fill="#1f80e8"/><circle cx="8.20" cy="1.51" r="0.41" fill="#fff"/><circle cx="10.10" cy="1.51" r="0.41" fill="#fff"/><circle cx="12.05" cy="1.51" r="0.41" fill="#fff"/><circle cx="8.20" cy="3.41" r="0.41" fill="#fff"/><circle cx="10.10" cy="3.41" r="0.41" fill="#fff"/><circle cx="12.05" cy="3.41" r="0.41" fill="#fff"/><circle cx="8.20" cy="5.25" r="0.41" fill="#fff"/><circle cx="10.10" cy="5.25" r="0.41" fill="#fff"/><circle cx="12.05" cy="5.25" r="0.41" fill="#fff"/></g><circle cx="6.05" cy="11.95" r="7.05" fill="#fff"/><circle cx="6.05" cy="11.95" r="6.05" fill="#1a47b8"/><path d="M0.8 8.4 h4.6 v3.2 h-4.6 z" fill="#dfe7fb"/><path d="M0.6 10 h5 M3.1 8.2 v3.6" stroke="#ee4744" stroke-width="0.9"/><circle cx="8.8" cy="10" r=".7" fill="#fff"/><circle cx="7.8" cy="14.4" r=".7" fill="#fff"/><circle cx="4.2" cy="14.8" r=".9" fill="#fff"/><circle cx="10" cy="12.6" r=".6" fill="#fff"/></svg>
<div class="t" style="top:303.30px;font-size:14px;line-height:18px;color:#131722;left:1514.20px;transform-origin:0 50%;transform:scaleX(0.8509);">AUDUSD</div>
<div class="t" style="top:303.30px;font-size:14px;line-height:18px;color:#131722;right:173.40px;transform-origin:100% 50%;transform:scaleX(0.9766);">0.7061<span style="color:#f23645"></span></div>
<div class="t" style="top:301.10px;font-size:11px;line-height:15px;color:#f23645;right:166.70px;transform-origin:100% 50%;transform:scaleX(0.9422);">8</div>
<div class="t" style="top:303.30px;font-size:14px;line-height:18px;color:#f23645;right:87.60px;transform-origin:100% 50%;transform:scaleX(0.9610);">−0.00292</div>
<div class="t" style="top:303.30px;font-size:14px;line-height:18px;color:#f23645;right:20.00px;transform-origin:100% 50%;transform:scaleX(0.8958);">−0.41%</div>
<div class="abs" style="left:1474px;top:326px;width:345px;height:1px;background:#ebebeb"></div>
<svg class="abs" style="left:1490px;top:333px" width="18" height="18" viewBox="0 0 18 18"><clipPath id="c2"><circle cx="12.4" cy="5.6" r="5.75"/></clipPath><g clip-path="url(#c2)"><rect x="6.65" y="-0.15000000000000036" width="11.5" height="11.5" fill="#f8fbff"/><rect x="6.65" y="-0.15" width="11.5" height="2.42" fill="#ee4744"/><rect x="6.65" y="4.33" width="11.5" height="2.59" fill="#ee4744"/><rect x="6.65" y="8.71" width="11.5" height="2.64" fill="#ee4744"/><rect x="6.65" y="-0.15000000000000036" width="7.01" height="7.07" fill="#1f80e8"/><circle cx="8.20" cy="1.51" r="0.41" fill="#fff"/><circle cx="10.10" cy="1.51" r="0.41" fill="#fff"/><circle cx="12.05" cy="1.51" r="0.41" fill="#fff"/><circle cx="8.20" cy="3.41" r="0.41" fill="#fff"/><circle cx="10.10" cy="3.41" r="0.41" fill="#fff"/><circle cx="12.05" cy="3.41" r="0.41" fill="#fff"/><circle cx="8.20" cy="5.25" r="0.41" fill="#fff"/><circle cx="10.10" cy="5.25" r="0.41" fill="#fff"/><circle cx="12.05" cy="5.25" r="0.41" fill="#fff"/></g><circle cx="6.05" cy="11.95" r="7.05" fill="#fff"/><circle cx="6.05" cy="11.95" r="6.05" fill="#1a47b8"/><circle cx="6.05" cy="11.95" r="3.3" fill="none" stroke="#f6c944" stroke-width="1.1" stroke-dasharray="1 1.07"/></svg>
<div class="t" style="top:333.30px;font-size:14px;line-height:18px;color:#131722;left:1514.20px;transform-origin:0 50%;transform:scaleX(0.8308);">EURUSD</div>
<div class="t" style="top:333.30px;font-size:14px;line-height:18px;color:#131722;right:173.40px;transform-origin:100% 50%;transform:scaleX(0.9766);"><span style="color:#22ab94">1.1857</span></div>
<div class="t" style="top:331.10px;font-size:11px;line-height:15px;color:#22ab94;right:166.70px;transform-origin:100% 50%;transform:scaleX(0.9422);">1</div>
<div class="t" style="top:333.30px;font-size:14px;line-height:18px;color:#f23645;right:87.60px;transform-origin:100% 50%;transform:scaleX(0.9610);">−0.00141</div>
<div class="t" style="top:333.30px;font-size:14px;line-height:18px;color:#f23645;right:20.00px;transform-origin:100% 50%;transform:scaleX(0.8958);">−0.12%</div>
<div class="abs" style="left:1474px;top:356px;width:345px;height:1px;background:#ebebeb"></div>
<svg class="abs" style="left:1490px;top:363px" width="18" height="18" viewBox="0 0 18 18"><clipPath id="c3"><circle cx="12.4" cy="5.6" r="5.75"/></clipPath><g clip-path="url(#c3)"><rect x="6.65" y="-0.15000000000000036" width="11.5" height="11.5" fill="#f8fbff"/><rect x="6.65" y="-0.15" width="11.5" height="2.42" fill="#ee4744"/><rect x="6.65" y="4.33" width="11.5" height="2.59" fill="#ee4744"/><rect x="6.65" y="8.71" width="11.5" height="2.64" fill="#ee4744"/><rect x="6.65" y="-0.15000000000000036" width="7.01" height="7.07" fill="#1f80e8"/><circle cx="8.20" cy="1.51" r="0.41" fill="#fff"/><circle cx="10.10" cy="1.51" r="0.41" fill="#fff"/><circle cx="12.05" cy="1.51" r="0.41" fill="#fff"/><circle cx="8.20" cy="3.41" r="0.41" fill="#fff"/><circle cx="10.10" cy="3.41" r="0.41" fill="#fff"/><circle cx="12.05" cy="3.41" r="0.41" fill="#fff"/><circle cx="8.20" cy="5.25" r="0.41" fill="#fff"/><circle cx="10.10" cy="5.25" r="0.41" fill="#fff"/><circle cx="12.05" cy="5.25" r="0.41" fill="#fff"/></g><circle cx="6.05" cy="11.95" r="7.05" fill="#fff"/><clipPath id="gb"><circle cx="6.05" cy="11.95" r="6.05"/></clipPath><g clip-path="url(#gb)"><rect x="0" y="5.9" width="12.2" height="12.2" fill="#3f66c9"/><path d="M0 5.9 L12.1 18 M12.1 5.9 L0 18" stroke="#fff" stroke-width="2.4"/><path d="M0 5.9 L12.1 18 M12.1 5.9 L0 18" stroke="#ee4744" stroke-width="0.9"/><path d="M6.05 5.9 V18 M0 11.95 H12.1" stroke="#fff" stroke-width="3.4"/><path d="M6.05 5.9 V18 M0 11.95 H12.1" stroke="#ee4744" stroke-width="1.8"/></g></svg>
<div class="t" style="top:363.30px;font-size:14px;line-height:18px;color:#131722;left:1514.20px;transform-origin:0 50%;transform:scaleX(0.8387);">GBPUSD</div>
<div class="t" style="top:363.30px;font-size:14px;line-height:18px;color:#131722;right:173.40px;transform-origin:100% 50%;transform:scaleX(0.9766);">1.3597<span style="color:#22ab94"></span></div>
<div class="t" style="top:361.10px;font-size:11px;line-height:15px;color:#22ab94;right:166.70px;transform-origin:100% 50%;transform:scaleX(0.9422);">9</div>
<div class="t" style="top:363.30px;font-size:14px;line-height:18px;color:#f23645;right:87.60px;transform-origin:100% 50%;transform:scaleX(0.9610);">−0.00245</div>
<div class="t" style="top:363.30px;font-size:14px;line-height:18px;color:#f23645;right:20.00px;transform-origin:100% 50%;transform:scaleX(0.8958);">−0.18%</div>
<div class="abs" style="left:1474px;top:386px;width:345px;height:1px;background:#ebebeb"></div>
<svg class="abs" style="left:1490px;top:393px" width="18" height="18" viewBox="0 0 18 18"><circle cx="12.4" cy="5.6" r="5.75" fill="#ee4744"/><path d="M12.4 2.4 V8.8 M9.2 5.6 H15.600000000000001" stroke="#fff" stroke-width="1.9"/><circle cx="6.05" cy="11.95" r="7.05" fill="#fff"/><clipPath id="c4"><circle cx="6.05" cy="11.95" r="6.05"/></clipPath><g clip-path="url(#c4)"><rect x="0.0" y="5.8999999999999995" width="12.1" height="12.1" fill="#f8fbff"/><rect x="0.0" y="5.90" width="12.1" height="2.54" fill="#ee4744"/><rect x="0.0" y="10.62" width="12.1" height="2.72" fill="#ee4744"/><rect x="0.0" y="15.22" width="12.1" height="2.78" fill="#ee4744"/><rect x="0.0" y="5.8999999999999995" width="7.38" height="7.44" fill="#1f80e8"/><circle cx="1.63" cy="7.64" r="0.44" fill="#fff"/><circle cx="3.63" cy="7.64" r="0.44" fill="#fff"/><circle cx="5.69" cy="7.64" r="0.44" fill="#fff"/><circle cx="1.63" cy="9.65" r="0.44" fill="#fff"/><circle cx="3.63" cy="9.65" r="0.44" fill="#fff"/><circle cx="5.69" cy="9.65" r="0.44" fill="#fff"/><circle cx="1.63" cy="11.59" r="0.44" fill="#fff"/><circle cx="3.63" cy="11.59" r="0.44" fill="#fff"/><circle cx="5.69" cy="11.59" r="0.44" fill="#fff"/></g></svg>
<div class="t" style="top:393.30px;font-size:14px;line-height:18px;color:#131722;left:1514.20px;transform-origin:0 50%;transform:scaleX(0.8446);">USDCHF</div>
<div class="t" style="top:393.30px;font-size:14px;line-height:18px;color:#131722;right:173.40px;transform-origin:100% 50%;transform:scaleX(0.9766);">0.7702<span style="color:#f23645"></span></div>
<div class="t" style="top:391.10px;font-size:11px;line-height:15px;color:#f23645;right:166.70px;transform-origin:100% 50%;transform:scaleX(0.9422);">1</div>
<div class="t" style="top:393.30px;font-size:14px;line-height:18px;color:#22ab94;right:87.60px;transform-origin:100% 50%;transform:scaleX(0.9713);">0.00077</div>
<div class="t" style="top:393.30px;font-size:14px;line-height:18px;color:#22ab94;right:20.00px;transform-origin:100% 50%;transform:scaleX(0.8954);">0.10%</div>
<div class="abs" style="left:1474px;top:416px;width:345px;height:1px;background:#ebebeb"></div>
<svg class="abs" style="left:1490px;top:423px" width="18" height="18" viewBox="0 0 18 18"><circle cx="12.4" cy="5.6" r="5.75" fill="#eceef6"/><circle cx="12.4" cy="5.6" r="2.5" fill="#e8333f"/><circle cx="6.05" cy="11.95" r="7.05" fill="#fff"/><clipPath id="c5"><circle cx="6.05" cy="11.95" r="6.05"/></clipPath><g clip-path="url(#c5)"><rect x="0.0" y="5.8999999999999995" width="12.1" height="12.1" fill="#f8fbff"/><rect x="0.0" y="5.90" width="12.1" height="2.54" fill="#ee4744"/><rect x="0.0" y="10.62" width="12.1" height="2.72" fill="#ee4744"/><rect x="0.0" y="15.22" width="12.1" height="2.78" fill="#ee4744"/><rect x="0.0" y="5.8999999999999995" width="7.38" height="7.44" fill="#1f80e8"/><circle cx="1.63" cy="7.64" r="0.44" fill="#fff"/><circle cx="3.63" cy="7.64" r="0.44" fill="#fff"/><circle cx="5.69" cy="7.64" r="0.44" fill="#fff"/><circle cx="1.63" cy="9.65" r="0.44" fill="#fff"/><circle cx="3.63" cy="9.65" r="0.44" fill="#fff"/><circle cx="5.69" cy="9.65" r="0.44" fill="#fff"/><circle cx="1.63" cy="11.59" r="0.44" fill="#fff"/><circle cx="3.63" cy="11.59" r="0.44" fill="#fff"/><circle cx="5.69" cy="11.59" r="0.44" fill="#fff"/></g></svg>
<div class="t" style="top:423.30px;font-size:14px;line-height:18px;color:#131722;left:1514.20px;transform-origin:0 50%;transform:scaleX(0.8483);">USDJPY</div>
<div class="t" style="top:423.30px;font-size:14px;line-height:18px;color:#131722;right:173.40px;transform-origin:100% 50%;transform:scaleX(0.9766);">153.2<span style="color:#22ab94">8</span></div>
<div class="t" style="top:421.10px;font-size:11px;line-height:15px;color:#22ab94;right:166.70px;transform-origin:100% 50%;transform:scaleX(0.9422);">0</div>
<div class="t" style="top:423.30px;font-size:14px;line-height:18px;color:#22ab94;right:87.60px;transform-origin:100% 50%;transform:scaleX(0.9842);">0.542</div>
<div class="t" style="top:423.30px;font-size:14px;line-height:18px;color:#22ab94;right:20.00px;transform-origin:100% 50%;transform:scaleX(0.8954);">0.35%</div>
<div class="abs" style="left:1474px;top:446px;width:345px;height:1px;background:#ebebeb"></div>
<svg class="abs" style="left:1490px;top:453px" width="18" height="18" viewBox="0 0 18 18"><circle cx="9" cy="9" r="9" fill="#f7931a"/><text x="9" y="12.96" text-anchor="middle" font-family="Liberation Sans, sans-serif" font-weight="bold" font-size="11" fill="#fff">₿</text></svg>
<div class="t" style="top:453.30px;font-size:14px;line-height:18px;color:#131722;left:1514.20px;transform-origin:0 50%;transform:scaleX(0.8481);">BTCUSD</div>
<div class="t" style="top:453.30px;font-size:14px;line-height:18px;color:#131722;right:167.00px;transform-origin:100% 50%;transform:scaleX(0.9766);">65,99<span style="color:#f23645">1</span></div>
<div class="t" style="top:453.30px;font-size:14px;line-height:18px;color:#f23645;right:87.60px;transform-origin:100% 50%;transform:scaleX(0.9305);">−216</div>
<div class="t" style="top:453.30px;font-size:14px;line-height:18px;color:#f23645;right:20.00px;transform-origin:100% 50%;transform:scaleX(0.8958);">−0.33%</div>
<div class="abs" style="left:1474px;top:476px;width:345px;height:1px;background:#ebebeb"></div>
<svg class="abs" style="left:1490px;top:483px" width="18" height="18" viewBox="0 0 18 18"><clipPath id="c6"><circle cx="9" cy="9" r="9"/></clipPath><g clip-path="url(#c6)"><rect x="0" y="0" width="18" height="18" fill="#f8fbff"/><rect x="0" y="0.00" width="18" height="3.78" fill="#ee4744"/><rect x="0" y="7.02" width="18" height="4.05" fill="#ee4744"/><rect x="0" y="13.86" width="18" height="4.14" fill="#ee4744"/><rect x="0" y="0" width="10.98" height="11.07" fill="#1f80e8"/><circle cx="2.43" cy="2.59" r="0.65" fill="#fff"/><circle cx="5.40" cy="2.59" r="0.65" fill="#fff"/><circle cx="8.46" cy="2.59" r="0.65" fill="#fff"/><circle cx="2.43" cy="5.58" r="0.65" fill="#fff"/><circle cx="5.40" cy="5.58" r="0.65" fill="#fff"/><circle cx="8.46" cy="5.58" r="0.65" fill="#fff"/><circle cx="2.43" cy="8.46" r="0.65" fill="#fff"/><circle cx="5.40" cy="8.46" r="0.65" fill="#fff"/><circle cx="8.46" cy="8.46" r="0.65" fill="#fff"/></g></svg>
<div class="t" style="top:483.30px;font-size:14px;line-height:18px;color:#131722;left:1514.20px;transform-origin:0 50%;transform:scaleX(0.9036);">DJIA</div>
<div class="t" style="top:483.30px;font-size:14px;line-height:18px;color:#131722;right:167.00px;transform-origin:100% 50%;transform:scaleX(0.9689);"><span style="color:#f23645">49.45 K</span></div>
<div class="t" style="top:483.30px;font-size:14px;line-height:18px;color:#f23645;right:87.60px;transform-origin:100% 50%;transform:scaleX(0.9639);">−669.42</div>
<div class="t" style="top:483.30px;font-size:14px;line-height:18px;color:#f23645;right:20.00px;transform-origin:100% 50%;transform:scaleX(0.8958);">−1.34%</div>
<div class="abs" style="left:1474px;top:506px;width:345px;height:1px;background:#ebebeb"></div>
<svg class="abs" style="left:1490px;top:513px" width="18" height="18" viewBox="0 0 18 18"><clipPath id="c7"><circle cx="9" cy="9" r="9"/></clipPath><g clip-path="url(#c7)"><rect x="0" y="0" width="18" height="18" fill="#f8fbff"/><rect x="0" y="0.00" width="18" height="3.78" fill="#ee4744"/><rect x="0" y="7.02" width="18" height="4.05" fill="#ee4744"/><rect x="0" y="13.86" width="18" height="4.14" fill="#ee4744"/><rect x="0" y="0" width="10.98" height="11.07" fill="#1f80e8"/><circle cx="2.43" cy="2.59" r="0.65" fill="#fff"/><circle cx="5.40" cy="2.59" r="0.65" fill="#fff"/><circle cx="8.46" cy="2.59" r="0.65" fill="#fff"/><circle cx="2.43" cy="5.58" r="0.65" fill="#fff"/><circle cx="5.40" cy="5.58" r="0.65" fill="#fff"/><circle cx="8.46" cy="5.58" r="0.65" fill="#fff"/><circle cx="2.43" cy="8.46" r="0.65" fill="#fff"/><circle cx="5.40" cy="8.46" r="0.65" fill="#fff"/><circle cx="8.46" cy="8.46" r="0.65" fill="#fff"/></g></svg>
<div class="t" style="top:513.30px;font-size:14px;line-height:18px;color:#131722;left:1514.20px;transform-origin:0 50%;transform:scaleX(0.9494);">DJIA1!</div>
<div class="t" style="top:509.50px;font-size:9px;line-height:13px;color:#ff9800;font-weight:bold;left:1557.59px;transform-origin:0 50%;transform:scaleX(0.9231);">D</div>
<div class="t" style="top:513.30px;font-size:14px;line-height:18px;color:#131722;right:167.00px;transform-origin:100% 50%;transform:scaleX(0.9766);">49,4<span style="color:#22ab94">38</span></div>
<div class="t" style="top:513.30px;font-size:14px;line-height:18px;color:#f23645;right:87.60px;transform-origin:100% 50%;transform:scaleX(0.9305);">−857</div>
<div class="t" style="top:513.30px;font-size:14px;line-height:18px;color:#f23645;right:20.00px;transform-origin:100% 50%;transform:scaleX(0.8958);">−1.70%</div>
<div class="abs" style="left:1474px;top:536px;width:345px;height:1px;background:#ebebeb"></div>
<div class="abs" style="left:1475px;top:237.4px;width:343.6px;height:28px;border:2px solid #1c1c1c;border-radius:5px"></div>
<svg class="abs" style="left:1490.1px;top:581px" width="24" height="24" viewBox="0 0 18 18"><circle cx="9" cy="9" r="9" fill="#131722"/><path d="M9 3.6 C10.7 6.2 12.3 8.4 12.3 10.6 A3.3 3.3 0 0 1 5.7 10.6 C5.7 8.4 7.3 6.2 9 3.6 Z" fill="#fff"/></svg>
<div class="t" style="top:584.20px;font-size:14px;line-height:18px;color:#131722;font-weight:bold;left:1522.80px;transform-origin:0 50%;transform:scaleX(0.8731);">BRENT</div>
<svg class="abs" style="left:1706px;top:583px" width="21" height="21" viewBox="0 0 21 21"><g fill="none" stroke="#131722" stroke-width="1.2"><rect x="1.8" y="1.8" width="6.8" height="6.8" rx="1.6"/><rect x="11.8" y="1.8" width="6.8" height="6.8" rx="1.6"/><rect x="1.8" y="11.8" width="6.8" height="6.8" rx="1.6"/><rect x="11.8" y="11.8" width="6.8" height="6.8" rx="1.6"/></g></svg>
<svg class="abs" style="left:1743px;top:581px" width="24" height="23" viewBox="0 0 24 23"><g fill="none" stroke="#131722" stroke-width="1.2" stroke-linejoin="round"><path d="M11 4.4 H5.4 A3 3 0 0 0 2.4 7.4 V17.6 A3 3 0 0 0 5.4 20.6 H15.6 A3 3 0 0 0 18.6 17.6 V12.4"/><path d="M8.4 15 L9.2 11.4 L17.6 3 A1.6 1.6 0 0 1 19.9 3 L20.6 3.7 A1.6 1.6 0 0 1 20.6 6 L12.2 14.4 Z M16.2 4.4 L19.2 7.4"/></g></svg>
<svg class="abs" style="left:1781px;top:588.3px" width="24" height="10" viewBox="0 0 24 10"><g fill="none" stroke="#131722" stroke-width="1.1"><circle cx="4.7" cy="5" r="2"/><circle cx="11.6" cy="5" r="2"/><circle cx="18.5" cy="5" r="2"/></g></svg>
<div class="t" style="top:620.00px;font-size:12px;line-height:16px;color:#131722;left:1490.30px;transform-origin:0 50%;transform:scaleX(0.9954);">Brent Crude Oil Fut LCOJ6 Exp 18/02/2026 23:59</div>
<svg class="abs" style="left:1758px;top:621px" width="14" height="14" viewBox="0 0 14 14"><g fill="none" stroke="#6a6a6a" stroke-width="1.1"><path d="M6 2 H3.6 A1.8 1.8 0 0 0 1.8 3.8 V11 A1.8 1.8 0 0 0 3.6 12.8 H10.8 A1.8 1.8 0 0 0 12.6 11 V8.4"/><path d="M8.4 1.6 H13 V6.2 M13 1.6 L7 7.6"/></g></svg>
<div class="t" style="top:621.00px;font-size:10px;line-height:14px;color:#9e9e9e;left:1778.40px;transform-origin:50% 50%;transform:translateX(-50%) scaleX(1.0000);">•</div>
<div class="t" style="top:641.80px;font-size:12px;line-height:16px;color:#131722;left:1490.30px;transform-origin:0 50%;transform:scaleX(0.8358);">FPMARKETS</div>
<div class="t" style="top:662.60px;font-size:12px;line-height:16px;color:#9e9e9e;left:1490.30px;transform-origin:0 50%;transform:scaleX(0.9987);">Commodity</div>
<div class="t" style="top:664.10px;font-size:9px;line-height:13px;color:#9e9e9e;left:1558.40px;transform-origin:50% 50%;transform:translateX(-50%) scaleX(1.0000);">•</div>
<div class="t" style="top:662.60px;font-size:12px;line-height:16px;color:#9e9e9e;left:1565.90px;transform-origin:0 50%;transform:scaleX(0.9746);">Cfd</div>
<div class="t" style="top:695.40px;font-size:30px;line-height:34px;color:#0f0f0f;font-weight:bold;left:1491.00px;transform-origin:0 50%;transform:scaleX(0.9808);">67.4<span style="color:#d32e3f">59</span></div>
<div class="t" style="top:709.90px;font-size:11px;line-height:15px;color:#131722;left:1587.00px;transform-origin:0 50%;transform:scaleX(0.8611);">USD</div>
<div class="t" style="top:706.80px;font-size:15px;line-height:19px;color:#d32e3f;left:1616.60px;transform-origin:0 50%;transform:scaleX(1.1243);-webkit-text-stroke:0.3px #d32e3f;">−0.110</div>
<div class="t" style="top:706.80px;font-size:15px;line-height:19px;color:#d32e3f;left:1676.90px;transform-origin:0 50%;transform:scaleX(1.0372);-webkit-text-stroke:0.3px #d32e3f;">−0.16%</div>
<div class="abs" style="left:1494.9px;top:735px;width:8px;height:8px;border-radius:50%;background:#089981"></div>
<div class="t" style="top:730.10px;font-size:13px;line-height:17px;color:#089981;left:1508.10px;transform-origin:0 50%;transform:scaleX(0.9991);">Market open</div>
<div class="abs" style="left:1490.3px;top:762px;width:51.7px;height:17.6px;border-radius:9px;background:#e1e7fd"></div>
<div class="t" style="top:763.00px;font-size:12px;line-height:16px;color:#2962ff;left:1498.30px;transform-origin:0 50%;transform:scaleX(0.9536);">67.461</div>
<div class="abs" style="left:1550.2px;top:762px;width:51.7px;height:17.6px;border-radius:9px;background:#fbe1e4"></div>
<div class="t" style="top:763.00px;font-size:12px;line-height:16px;color:#f23645;left:1558.20px;transform-origin:0 50%;transform:scaleX(0.9672);">67.483</div>
<div class="abs" style="left:1490.3px;top:792.2px;width:312.6px;height:39.6px;border-radius:7px;background:#e8e1f3"></div>
<svg class="abs" style="left:1499px;top:805px" width="12" height="14" viewBox="0 0 12 14"><path d="M7.8 1.6 L2 7.6 L5.6 7.2 L3.8 12.4 L10 6 L6.2 6.6 Z" fill="#7b3fd0"/></svg>
<div class="t" style="top:796.00px;font-size:12px;line-height:16px;color:#131722;left:1518.40px;transform-origin:0 50%;transform:scaleX(0.9707);">1 hour ago</div>
<div class="t" style="top:797.50px;font-size:9px;line-height:13px;color:#9e9e9e;left:1582.50px;transform-origin:50% 50%;transform:translateX(-50%) scaleX(1.0000);">•</div>
<div class="t" style="top:796.00px;font-size:12px;line-height:16px;color:#131722;left:1589.40px;transform-origin:0 50%;transform:scaleX(1.0274);">Oil set for second straight weekly</div>
<div class="t" style="top:811.90px;font-size:12px;line-height:16px;color:#131722;left:1518.40px;transform-origin:0 50%;transform:scaleX(0.9943);">drop as Iran risks recede</div>
<svg class="abs" style="left:1783px;top:806px" width="10" height="12" viewBox="0 0 10 12"><path d="M3.2 2.4 L6.8 6 L3.2 9.6" fill="none" stroke="#131722" stroke-width="1.2" stroke-linecap="round" stroke-linejoin="round"/></svg>
<div class="abs" style="left:1470.5px;top:788.5px;width:9px;height:26px;background:#fff;border:1px solid #ececec;border-radius:4px"></div>
<svg class="abs" style="left:1472px;top:797px" width="6" height="9" viewBox="0 0 6 9"><path d="M1.8 1.4 L4 4.5 L1.8 7.6" fill="none" stroke="#c4c4c4" stroke-width="1"/></svg>
</body></html>
